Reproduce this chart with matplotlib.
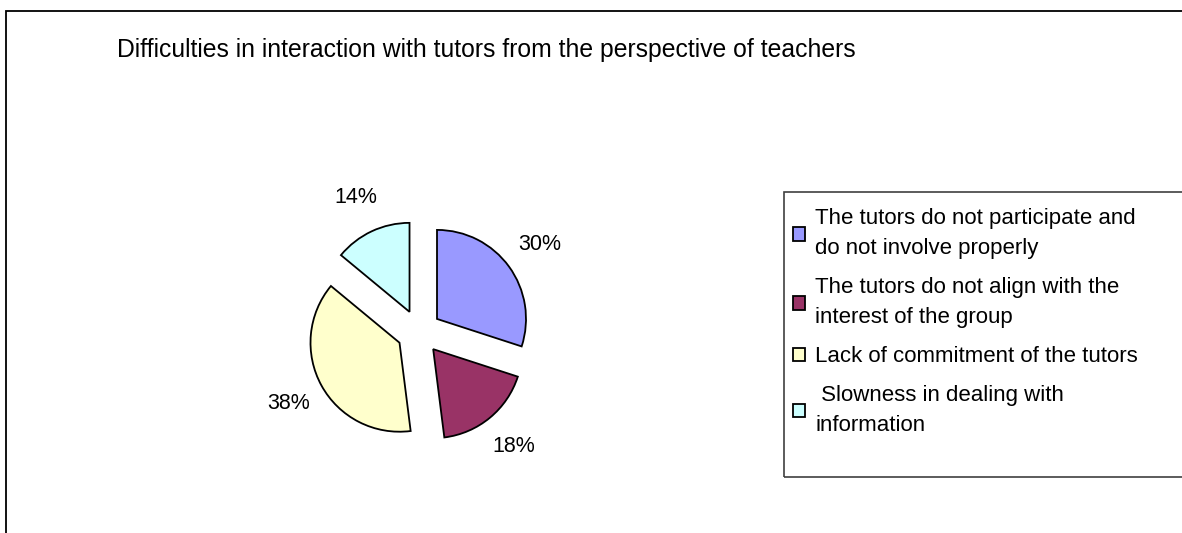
import matplotlib
matplotlib.use("Agg")
import matplotlib.pyplot as plt
from matplotlib.patches import Rectangle

plt.rcParams['font.family'] = ['Liberation Sans', 'DejaVu Sans']

title = "Difficulties in interaction with tutors from the perspective of teachers"
categories = [
    "The tutors do not participate and\ndo not involve properly",
    "The tutors do not align with the\ninterest of the group",
    "Lack of commitment of the tutors",
    " Slowness in dealing with\ninformation",
]
values = [30, 18, 38, 14]
colors = ["#9999FF", "#993366", "#FFFFCC", "#CCFFFF"]

W, H = 1182, 533
fig = plt.figure(figsize=(W / 100, H / 100), dpi=100)

# outer chart border (extends past right/bottom edges)
fig.add_artist(Rectangle((6 / W, -0.05), 1.1, 1 - 11 / H + 0.05,
                         transform=fig.transFigure, fill=False,
                         edgecolor='black', linewidth=1.3))

fig.text(117 / W, 1 - 50 / H, title, fontsize=17.8, va='center', ha='left')

# pie axes centered at (419, 332) px, radius ~89 px
cx, cy, r = 419, 332, 89
half = 200
ax = fig.add_axes([(cx - half) / W, (H - cy - half) / H, 2 * half / W, 2 * half / H])
lim = half / r
wedges, texts, autotexts = ax.pie(
    values, colors=colors, startangle=90, counterclock=False,
    explode=[0.25] * len(values), autopct='%1.0f%%', pctdistance=1.42,
    wedgeprops=dict(edgecolor='black', linewidth=1.3),
    textprops=dict(fontsize=15.5))
ax.set_xlim(-lim, lim)
ax.set_ylim(-lim, lim)
ax.set_aspect('equal')
ax.axis('off')

# legend frame
fig.add_artist(Rectangle((784 / W, 1 - 477 / H), 1.0, (477 - 192) / H,
                         transform=fig.transFigure, fill=False,
                         edgecolor='#404040', linewidth=1.2))
leg = fig.legend(wedges, categories, loc='upper left',
                 bbox_to_anchor=(782 / W, 1 - 197 / H), frameon=False,
                 fontsize=16, handlelength=0.55, handleheight=0.55,
                 handletextpad=0.45, labelspacing=0.8, borderpad=0)
for t in leg.get_texts():
    t.set_linespacing(1.58)

fig.savefig("out.png", dpi=100)
